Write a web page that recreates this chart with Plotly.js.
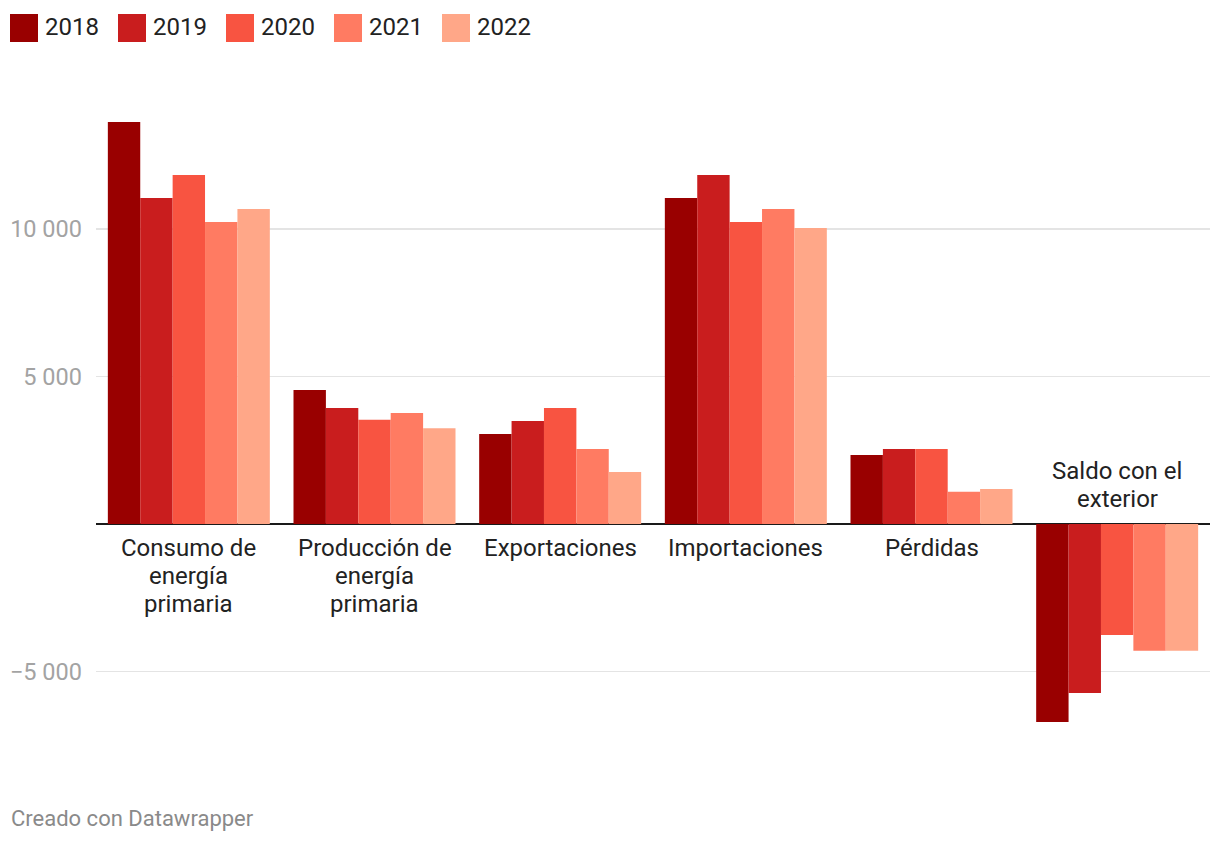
<!DOCTYPE html>
<html>
<head>
<meta charset="utf-8">
<script src="https://cdn.plot.ly/plotly-3.0.1.min.js"></script>
<style>
  html, body { margin: 0; padding: 0; background: #fff; }
  #chart { width: 1220px; height: 844px; }
</style>
</head>
<body>
<div id="chart"></div>
<script>
const categories = ["Consumo de<br>energía<br>primaria", "Producción de<br>energía<br>primaria", "Exportaciones", "Importaciones", "Pérdidas", "Saldo con el<br>exterior"];
const years = ["2018", "2019", "2020", "2021", "2022"];
const colors = ["#990000", "#c91d1e", "#f85441", "#ff7b62", "#ffa788"];
const v2018 = [13630, 4540, 3050, 11050, 2340, -6710];
const v2019 = [11050, 3930, 3490, 11830, 2540, -5730];
const v2020 = [11830, 3530, 3930, 10240, 2540, -3760];
const v2021 = [10240, 3760, 2540, 10680, 1090, -4300];
const v2022 = [10680, 3250, 1760, 10030, 1190, -4300];
const series = [v2018, v2019, v2020, v2021, v2022];
const tickVals = [-5000, 0, 5000, 10000];
const tickText = ["−5 000", "", "5 000", "10 000"];

const FONT = "Roboto, 'Noto Sans', sans-serif";

const traces = series.map((vals, i) => ({
  type: "bar",
  name: years[i],
  x: categories,
  y: vals,
  marker: { color: colors[i], line: { width: 0 } },
  hoverinfo: "skip",
  showlegend: false
}));

const annotations = [];
const shapes = [];

// category labels, one annotation per line for tight line spacing
const LINE = 28;
categories.forEach((c, i) => {
  const neg = series.every(s => s[i] < 0);
  const lines = c.split("<br>");
  lines.forEach((ln, k) => {
    const shift = neg ? (25 + (lines.length - 1 - k) * LINE) : -(24 + k * LINE);
    annotations.push({
      x: c, y: 0, xref: "x", yref: "y",
      text: ln, showarrow: false,
      xanchor: "center", yanchor: "middle",
      yshift: shift,
      font: { family: FONT, size: 24, color: "#222222" }
    });
  });
});

// custom legend
years.forEach((yr, i) => {
  const x0 = 10 + i * 108;
  shapes.push({
    type: "rect", xref: "paper", yref: "paper",
    x0: (x0 - 96) / 1114, x1: (x0 + 28 - 96) / 1114,
    y0: (760 - 42) / 680, y1: (760 - 14) / 680,
    fillcolor: colors[i], line: { width: 0 }
  });
  annotations.push({
    xref: "paper", yref: "paper",
    x: (x0 + 33 - 96) / 1114, y: (760 - 27) / 680,
    xanchor: "left", yanchor: "middle",
    text: yr, showarrow: false,
    font: { family: FONT, size: 24, color: "#222222" }
  });
});

// footer
annotations.push({
  xref: "paper", yref: "paper",
  x: (9 - 96) / 1114, y: (760 - 818) / 680,
  xanchor: "left", yanchor: "middle",
  text: "Creado con Datawrapper", showarrow: false,
  font: { family: FONT, size: 22, color: "#8a8a8a" }
});

const layout = {
  width: 1220, height: 844,
  margin: { l: 96, r: 10, t: 80, b: 84 },
  paper_bgcolor: "#ffffff",
  plot_bgcolor: "#ffffff",
  barmode: "group",
  bargap: 0.1275,
  bargroupgap: 0,
  separators: ", ",
  showlegend: false,
  font: { family: FONT },
  xaxis: {
    type: "category",
    showticklabels: false,
    showgrid: false,
    zeroline: false,
    showline: false,
    ticks: "",
    range: [-0.5, 5.5],
    fixedrange: true
  },
  yaxis: {
    range: [-8000, 15051],
    tickvals: tickVals,
    ticktext: tickText,
    showgrid: true,
    gridcolor: "#e4e4e4",
    gridwidth: 1.5,
    zeroline: true,
    zerolinecolor: "#1a1a1a",
    zerolinewidth: 2,
    showline: false,
    ticks: "",
    ticklabelstandoff: 13,
    tickfont: { family: FONT, size: 23.5, color: "#a3a3a3" },
    fixedrange: true
  },
  annotations: annotations,
  shapes: shapes
};

Plotly.newPlot("chart", traces, layout, { displayModeBar: false, staticPlot: true });
</script>
</body>
</html>
